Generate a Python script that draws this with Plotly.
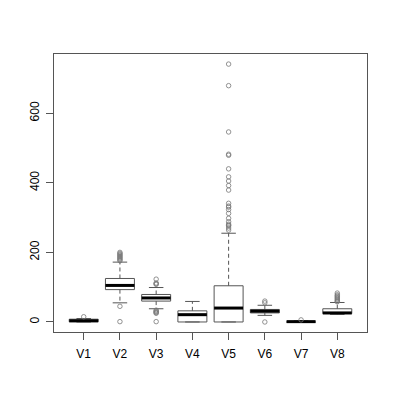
import plotly.graph_objects as go

categories = ["V1", "V2", "V3", "V4", "V5", "V6", "V7", "V8"]
q1 = [0.5, 93, 60, 0, 0, 26, 0, 24]
median = [3.5, 105, 69, 21, 40, 31, 1, 26]
q3 = [8, 125, 79, 32, 104, 36, 2, 38]
whisker_low = [0, 55, 38, 0, 0, 19, 0, 22]
whisker_high = [10, 172, 99, 59, 255, 48, 3, 56]
outliers = [
    [15],
    [176, 179, 182, 185, 188, 191, 194, 197, 200, 45, 1],
    [123, 112, 110, 108, 34, 31, 29, 27, 25, 1],
    [],
    [741, 679, 546, 482, 479, 440, 417, 405, 392, 379, 341, 333, 330, 323,
     312, 298, 288, 281, 278, 276, 270, 264],
    [60, 55, 0],
    [6],
    [83, 78, 75, 72, 69, 66, 63, 60, 58],
]
y_ticks = [0, 200, 400, 600]

box_half = 0.4
cap_half = 0.2
line_col = "#555555"

bx, by = [], []
mx, my = [], []
wx, wy = [], []
cx, cy = [], []
ox, oy = [], []
for i, _ in enumerate(categories):
    x = i + 1
    bx += [x - box_half, x + box_half, x + box_half, x - box_half, x - box_half, None]
    by += [q1[i], q1[i], q3[i], q3[i], q1[i], None]
    mx += [x - box_half, x + box_half, None]
    my += [median[i], median[i], None]
    wx += [x, x, None, x, x, None]
    wy += [q3[i], whisker_high[i], None, q1[i], whisker_low[i], None]
    cx += [x - cap_half, x + cap_half, None, x - cap_half, x + cap_half, None]
    cy += [whisker_high[i], whisker_high[i], None, whisker_low[i], whisker_low[i], None]
    for v in outliers[i]:
        ox.append(x)
        oy.append(v)

fig = go.Figure()
fig.add_trace(go.Scatter(x=wx, y=wy, mode="lines",
                         line=dict(color=line_col, width=1, dash="4px,3px"),
                         hoverinfo="skip"))
fig.add_trace(go.Scatter(x=cx, y=cy, mode="lines",
                         line=dict(color=line_col, width=1), hoverinfo="skip"))
fig.add_trace(go.Scatter(x=bx, y=by, mode="lines",
                         line=dict(color=line_col, width=1), hoverinfo="skip"))
fig.add_trace(go.Scatter(x=mx, y=my, mode="lines",
                         line=dict(color="black", width=3), hoverinfo="skip"))
fig.add_trace(go.Scatter(x=ox, y=oy, mode="markers",
                         marker=dict(symbol="circle-open", size=4.5,
                                     color="#777777", line=dict(width=0.8, color="#777777")),
                         hoverinfo="skip"))

fig.update_layout(
    width=394, height=400,
    margin=dict(l=46, r=35, t=46, b=76),
    paper_bgcolor="white", plot_bgcolor="white",
    showlegend=False,
    font=dict(family="Liberation Sans, Arial, sans-serif", size=12, color="black"),
)
fig.update_xaxes(
    range=[0.18, 8.82], tickvals=list(range(1, 9)), ticktext=categories,
    showgrid=False, zeroline=False, showline=True, linecolor=line_col, linewidth=1,
    mirror=True, ticks="outside", ticklen=7, tickcolor=line_col,
    ticklabelstandoff=4, automargin=False,
)
fig.update_yaxes(
    range=[-28.8, 770], tickvals=y_ticks, ticktext=[str(t) for t in y_ticks],
    tickangle=-90,
    showgrid=False, zeroline=False, showline=True, linecolor=line_col, linewidth=1,
    mirror=True, ticks="outside", ticklen=7, tickcolor=line_col,
    ticklabelstandoff=2, automargin=False,
)

fig.write_html("out.html")
